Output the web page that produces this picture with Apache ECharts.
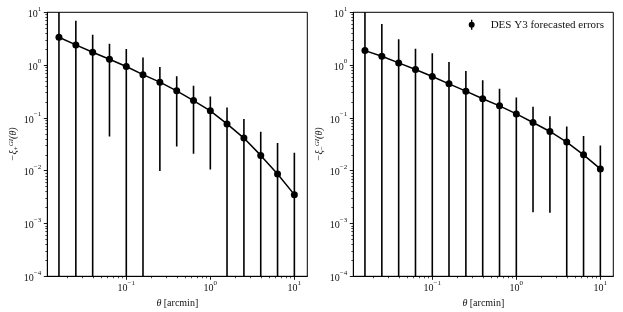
<!DOCTYPE html>
<html><head><meta charset="utf-8">
<script src="https://cdn.jsdelivr.net/npm/echarts@6/dist/echarts.min.js"></script>
<style>html,body{margin:0;padding:0;background:#fff}#c{width:623px;height:312px}</style>
</head><body><div id="c"></div>
<script>
// ---- data ----
const theta = [0.0158, 0.0251, 0.0398, 0.0631, 0.1, 0.158, 0.251, 0.398, 0.631, 1.0, 1.58, 2.51, 3.98, 6.31, 10.0];

// left panel: -xi_+
const xiPlus      = [3.37, 2.41, 1.75, 1.29, 0.94, 0.66, 0.475, 0.325, 0.213, 0.136, 0.077, 0.0415, 0.0195, 0.00865, 0.00352];
const plusUpper   = [null, 6.9, 3.77, 2.55, 2.02, 1.39, 0.92, 0.617, 0.405, 0.254, 0.157, 0.095, 0.0546, 0.0333, 0.0219];
const plusLower   = [null, null, null, 0.0445, null, null, 0.00986, 0.0288, 0.0209, 0.0105, null, null, null, null, null];

// right panel: -xi_-
const xiMinus     = [1.88, 1.47, 1.10, 0.823, 0.607, 0.442, 0.321, 0.23, 0.169, 0.119, 0.0819, 0.0553, 0.0348, 0.0200, 0.0108];
const minusUpper  = [null, 6.0, 3.09, 2.05, 1.68, 1.15, 0.776, 0.519, 0.355, 0.243, 0.162, 0.108, 0.0687, 0.0452, 0.0301];
const minusLower  = [null, null, null, null, null, null, null, null, null, null, 0.00163, 0.00159, null, null, null];

const majorX = [0.1, 1, 10];
const majorY = [1e-4, 1e-3, 1e-2, 1e-1, 1, 10];
const legendName = 'DES Y3 forecasted errors';
const xName = '{i|θ} [arcmin]';
const yNameLeft = '{m|−ξ}{sub|+}{sup|GI}{m|(θ)}';
const yNameRight = '{m|−ξ}{sub|−}{sup|GI}{m|(θ)}';

// ---- axis ranges ----
const X_MIN = Math.pow(10, -1.94), X_MAX = Math.pow(10, 1.154);
const Y_MIN = 1e-4, Y_MAX = 10;
const BELOW = 1e-6, ABOVE = 1e3; // error bar ends beyond the visible range (clipped)

function minorTicks(k0, k1) {
  const out = [];
  for (let k = k0; k <= k1; k++) for (let m = 2; m <= 9; m++) out.push(parseFloat((m * Math.pow(10, k)).toPrecision(6)));
  return out;
}
const minorX = minorTicks(-2, 1);
const minorY = minorTicks(-4, 0);

const FONT = 'Liberation Serif';
const rich = {
  b: {fontSize: 10, fontFamily: FONT, color: '#111', lineHeight: 14, verticalAlign: 'bottom'},
  s: {fontSize: 7, fontFamily: FONT, color: '#111', lineHeight: 14, verticalAlign: 'top', padding: [0, 0, 5, 0]}
};
function powFmt(v) {
  const e = Math.round(Math.log10(v));
  return '{b|10}{s|' + (e < 0 ? '−' + (-e) : e) + '}';
}
const nameRich = {
  i: {fontSize: 10, fontFamily: FONT, fontStyle: 'italic', color: '#111'},
  m: {fontSize: 10, fontFamily: FONT, fontStyle: 'italic', color: '#111'},
  sub: {fontSize: 7, fontFamily: FONT, color: '#111', padding: [5, 0, 0, 0]},
  sup: {fontSize: 7, fontFamily: FONT, fontStyle: 'italic', color: '#111', padding: [0, 0, 6, 0]}
};
const lineStyleBlack = {color: '#000', width: 0.9};

function xAxes(gi) {
  return [
    {type: 'log', logBase: 10, gridIndex: gi, min: X_MIN, max: X_MAX, position: 'bottom',
     axisLine: {show: true, lineStyle: {color: '#000', width: 1}},
     axisTick: {show: true, customValues: majorX, length: 3.5, lineStyle: lineStyleBlack},
     axisLabel: {customValues: majorX, formatter: powFmt, rich: rich, margin: 3},
     splitLine: {show: false},
     name: xName, nameLocation: 'middle', nameGap: 14,
     nameTextStyle: {fontSize: 10, fontFamily: FONT, color: '#111', rich: nameRich}},
    {type: 'log', logBase: 10, gridIndex: gi, min: X_MIN, max: X_MAX, position: 'bottom',
     axisLine: {show: false},
     axisTick: {show: true, customValues: minorX, length: 2, lineStyle: {color: '#000', width: 0.7}},
     axisLabel: {show: false}, splitLine: {show: false}}
  ];
}
function yAxes(gi, yName) {
  return [
    {type: 'log', logBase: 10, gridIndex: gi, min: Y_MIN, max: Y_MAX, position: 'left',
     axisLine: {show: true, lineStyle: {color: '#000', width: 1}},
     axisTick: {show: true, customValues: majorY, length: 3.5, lineStyle: lineStyleBlack},
     axisLabel: {customValues: majorY, formatter: powFmt, rich: rich, margin: 6},
     splitLine: {show: false},
     name: yName, nameLocation: 'middle', nameGap: 27, nameRotate: 90,
     nameTextStyle: {fontSize: 10, fontFamily: FONT, color: '#111', rich: nameRich}},
    {type: 'log', logBase: 10, gridIndex: gi, min: Y_MIN, max: Y_MAX, position: 'left',
     axisLine: {show: false},
     axisTick: {show: true, customValues: minorY, length: 2, lineStyle: {color: '#000', width: 0.7}},
     axisLabel: {show: false}, splitLine: {show: false}}
  ];
}

function errData(lower, upper) {
  return theta.map((t, i) => [t, lower[i] == null ? BELOW : lower[i], upper[i] == null ? ABOVE : upper[i]]);
}
function errSeries(gi, lower, upper) {
  return {
    type: 'custom', xAxisIndex: gi * 2, yAxisIndex: gi * 2, clip: true, z: 2, silent: true,
    data: errData(lower, upper),
    renderItem: function (params, api) {
      const p1 = api.coord([api.value(0), api.value(1)]);
      const p2 = api.coord([api.value(0), api.value(2)]);
      return {type: 'line', shape: {x1: p1[0], y1: p1[1], x2: p2[0], y2: p2[1]},
              style: {stroke: '#000', lineWidth: 1.6}};
    }
  };
}
function lineSeries(gi, name, vals) {
  return {
    type: 'line', name: name, xAxisIndex: gi * 2, yAxisIndex: gi * 2, z: 3,
    data: theta.map((t, i) => [t, vals[i]]),
    symbol: 'circle', symbolSize: 7, showSymbol: true,
    itemStyle: {color: '#000'}, lineStyle: {color: '#000', width: 1.5},
    animation: false
  };
}

const chart = echarts.init(document.getElementById('c'), null, {renderer: 'canvas'});
chart.setOption({
  animation: false,
  backgroundColor: '#fff',
  grid: [
    {left: 47.3, right: 315.7, top: 12.3, bottom: 35.7, show: true, borderColor: '#000', borderWidth: 1, outerBoundsMode: 'none'},
    {left: 353.3, right: 9.7, top: 12.3, bottom: 35.7, show: true, borderColor: '#000', borderWidth: 1, outerBoundsMode: 'none'}
  ],
  xAxis: [...xAxes(0), ...xAxes(1)],
  yAxis: [...yAxes(0, yNameLeft), ...yAxes(1, yNameRight)],
  legend: {
    right: 19, top: 19.3, padding: 0, itemWidth: 6, itemHeight: 10, selectedMode: false,
    data: [{name: legendName, icon: 'path://M2.3,0H3.7V10H2.3Z M3,2A3,3 0 1,1 3,8A3,3 0 1,1 3,2Z'}],
    textStyle: {fontFamily: FONT, fontSize: 11, color: '#111', padding: [0, 0, 0, 11]}
  },
  series: [
    errSeries(0, plusLower, plusUpper),
    lineSeries(0, 'xi_plus', xiPlus),
    errSeries(1, minusLower, minusUpper),
    lineSeries(1, legendName, xiMinus)
  ]
});
</script>
</body></html>
